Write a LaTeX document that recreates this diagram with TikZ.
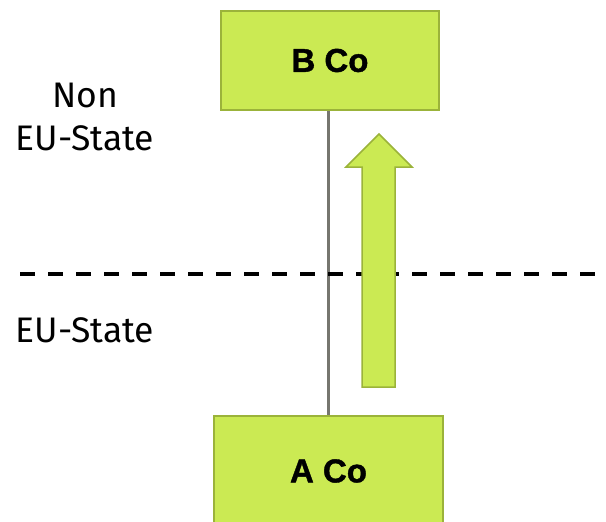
\documentclass[tikz,border=0pt]{standalone}
\usepackage{fontspec}
\setmainfont{Fira Sans}
\newfontfamily\boxfont[FakeBold=1.2]{Liberation Sans Bold}
\definecolor{limefill}{HTML}{CBEA53}
\definecolor{limeedge}{HTML}{9BB33A}
\definecolor{linkgray}{HTML}{76766F}
\begin{document}
\begin{tikzpicture}[x=1pt,y=-1pt,
  company/.style={draw=limeedge,fill=limefill,line width=2.5pt,
    font=\boxfont\fontsize{33}{40}\selectfont,inner sep=0pt},
  label/.style={font=\fontsize{35.5}{43}\selectfont,align=center,inner sep=0pt},
  border/.style={dash pattern=on 15pt off 13pt,line width=3.5pt},
  link/.style={draw=linkgray,line width=2.5pt},
  flow/.style={draw=limeedge,fill=limefill,line width=1.5pt,line join=miter}]
  \useasboundingbox (0,0) rectangle (606,522);
  % companies
  \node[company,minimum width=218pt,minimum height=99pt] (B) at (330,60.5) {B Co};
  \node[company,minimum width=229pt,minimum height=110pt] (A) at (328.5,471) {A Co};
  % ownership link
  \draw[link] (A.north) -- (A.north |- B.south);
  % state border
  \coordinate (bl) at (20,274);
  \coordinate (br) at (600,274);
  \draw[border] (bl) -- (br);
  % state labels
  \node[label] (non) at (85,117) {Non\\EU-State};
  \node[label] (eu) at (85,330) {EU-State};
  % upward flow arrow
  \draw[flow] (362,387) -- (362,167) -- (346,167) -- (379,134) -- (412,167)
    -- (395,167) -- (395,387) -- cycle;
\end{tikzpicture}
\end{document}
